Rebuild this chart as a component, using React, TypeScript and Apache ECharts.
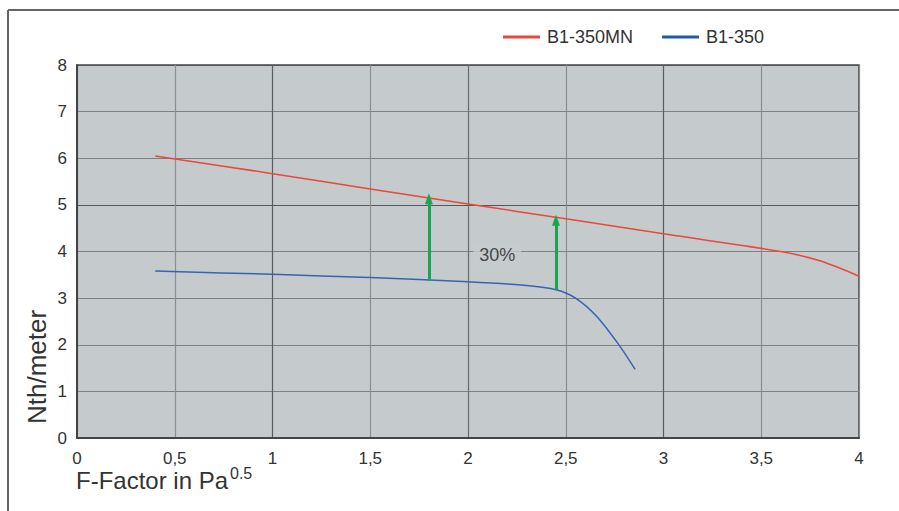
import React, { useEffect, useRef } from "react";
import * as echarts from "echarts";

const xTicks = [0, 0.5, 1, 1.5, 2, 2.5, 3, 3.5, 4];
const yTicks = [0, 1, 2, 3, 4, 5, 6, 7, 8];

const seriesNames = ["B1-350MN", "B1-350"];
const redData: [number, number][] = [
  [0.4, 6.05], [1, 5.67], [1.5, 5.34], [2, 5.02], [2.5, 4.7], [3, 4.38], [3.6, 4.0], [3.8, 3.8], [4, 3.47],
];
const blueData: [number, number][] = [
  [0.4, 3.58], [1, 3.51], [1.5, 3.44], [2, 3.35], [2.3, 3.27], [2.45, 3.18], [2.55, 3.0], [2.66, 2.6], [2.78, 1.95], [2.855, 1.47],
];
const arrows: [number, number, number][] = [
  [1.8, 3.37, 5.13],
  [2.45, 3.18, 4.67],
];
const annotation = { x: 2.15, y: 3.93, text: "30%" };

export default function App() {
  const ref = useRef<HTMLDivElement>(null);
  useEffect(() => {
    const chart = echarts.init(ref.current!, null, { renderer: "svg" });
    const font = "Liberation Sans, Arial, sans-serif";
    const fmt = (v: number) => String(v).replace(".", ",");
    chart.setOption({
      animation: false,
      backgroundColor: "#ffffff",
      textStyle: { fontFamily: font },
      legend: {
        top: 28,
        left: 503,
        padding: 0,
        itemWidth: 37,
        itemHeight: 3,
        itemGap: 29,
        icon: "rect",
        textStyle: { fontSize: 18, color: "#333", fontFamily: font, padding: [0, 0, 0, 2] },
        data: seriesNames,
      },
      grid: {
        left: 77,
        right: 40,
        top: 65,
        bottom: 73,
        show: true,
        backgroundColor: "#c5cacd",
        borderColor: "#444",
        borderWidth: 1.5,
      },
      xAxis: {
        type: "value",
        min: 0,
        max: 4,
        interval: 0.5,
        axisLine: { show: true, lineStyle: { color: "#444", width: 2 } },
        axisTick: { show: false },
        axisLabel: {
          fontSize: 17,
          color: "#333",
          margin: 12,
          formatter: (v: number) => fmt(v),
        },
        splitLine: {
          show: true,
          lineStyle: {
            color: ["#888", "#8c8f92", "#5a5d60", "#8c8f92", "#6a6d70", "#8c8f92", "#5a5d60", "#8c8f92", "#888"],
            width: 1.2,
          },
        },
        data: xTicks,
      },
      yAxis: {
        type: "value",
        min: 0,
        max: 8,
        interval: 1,
        axisLine: { show: true, lineStyle: { color: "#444", width: 2 } },
        axisTick: { show: false },
        axisLabel: { fontSize: 17, color: "#333", margin: 10 },
        splitLine: {
          show: true,
          lineStyle: {
            color: ["#888", "#7e8184", "#7e8184", "#7e8184", "#7e8184", "#55585b", "#7e8184", "#7e8184", "#555"],
            width: 1.2,
          },
        },
        data: yTicks,
      },
      graphic: [
        { type: "line", shape: { x1: 8, y1: 10, x2: 899, y2: 10 }, style: { stroke: "#666", lineWidth: 2 } },
        { type: "line", shape: { x1: 8, y1: 10, x2: 8, y2: 511 }, style: { stroke: "#666", lineWidth: 2 } },
        {
          type: "text",
          x: 76,
          y: 492,
          style: {
            text: "F-Factor in Pa",
            fontSize: 24,
            fill: "#333",
            fontFamily: font,
            verticalAlign: "bottom",
          },
        },
        {
          type: "text",
          x: 230,
          y: 481,
          style: {
            text: "0.5",
            fontSize: 16,
            fill: "#333",
            fontFamily: font,
            verticalAlign: "bottom",
          },
        },
        {
          type: "text",
          x: 50,
          y: 424,
          rotation: Math.PI / 2,
          style: {
            text: "Nth/meter",
            fontSize: 26,
            fill: "#333",
            fontFamily: font,
            align: "left",
            verticalAlign: "bottom",
          },
        },
      ],
      series: [
        {
          name: seriesNames[0],
          type: "line",
          data: redData,
          smooth: 0.3,
          showSymbol: false,
          lineStyle: { color: "#e8493c", width: 1.5 },
          itemStyle: { color: "#e8493c" },
          z: 3,
        },
        {
          name: seriesNames[1],
          type: "line",
          data: blueData,
          smooth: 0.3,
          showSymbol: false,
          lineStyle: { color: "#3a62b4", width: 1.5 },
          itemStyle: { color: "#1f5bb0" },
          z: 3,
        },
        {
          name: "arrows",
          type: "line",
          data: [],
          markLine: {
            silent: true,
            symbol: ["none", "triangle"],
            symbolSize: [8, 11],
            label: { show: false },
            lineStyle: { color: "#1aa550", width: 3, type: "solid" },
            data: arrows.map(([x, y0, y1]) => [
              { coord: [x, y0] },
              { coord: [x, y1] },
            ]),
          },
          z: 4,
        },
        {
          name: "annotation",
          type: "scatter",
          symbolSize: 0,
          data: [[annotation.x, annotation.y]],
          label: {
            show: true,
            position: "inside",
            formatter: annotation.text,
            fontSize: 18,
            color: "#222",
            backgroundColor: "#c5cacd",
            padding: [2, 6],
            fontFamily: font,
          },
          z: 5,
        },
      ],
    });
    return () => chart.dispose();
  }, []);
  return <div ref={ref} style={{ width: 899, height: 511, position: "absolute", left: 0, top: 0 }} />;
}
